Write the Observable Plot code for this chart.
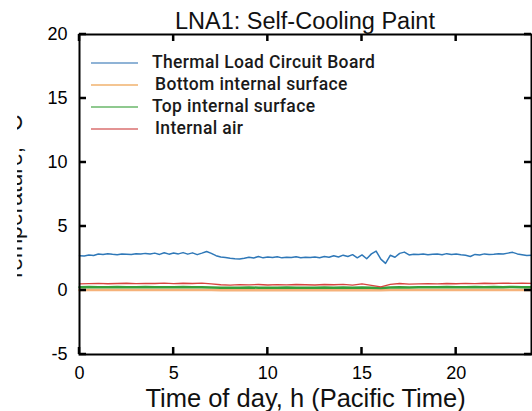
<!DOCTYPE html>
<html>
<head>
<meta charset="utf-8">
<script src="https://cdn.jsdelivr.net/npm/d3@7"></script>
<script src="https://cdn.jsdelivr.net/npm/@observablehq/plot@0.6"></script>
<style>
  html, body { margin: 0; padding: 0; background: #fff; overflow: hidden; }
  #wrap { position: relative; width: 532px; height: 411px; overflow: hidden; }
  #title { position: absolute; left: 5px; width: 600px; top: 9.5px; line-height: 23px; text-align: center; font-family: "Liberation Sans", Arial, sans-serif; font-size: 23.5px; color: #111; white-space: nowrap; }
  #legend { position: absolute; left: 91px; top: 52px; font-family: Roboto, sans-serif; font-size: 17.5px; font-weight: 500; letter-spacing: 0.35px; color: #1a1a1a; }
  .row { position: relative; height: 22px; }
  .row .ln { position: absolute; left: 0; top: 10px; width: 47px; height: 1.5px; }
  .row .tx { position: absolute; left: 61px; top: 0; white-space: nowrap; line-height: 20px; }
  #mask { position: absolute; left: 0; top: 0; width: 17px; height: 411px; background: #fff; }
</style>
</head>
<body>
<div id="wrap">
  <div id="chart"></div>
  <div id="mask"></div>
  <div id="title"></div>
  <div id="legend"></div>
</div>
<script>
const title = "LNA1: Self-Cooling Paint";
const xLabel = "Time of day, h (Pacific Time)";
const yLabel = "Temperature, °C";
const seriesNames = ["Thermal Load Circuit Board", "Bottom internal surface", "Top internal surface", "Internal air"];
const seriesColors = ["#2f78b8", "#f6b27a", "#36a03a", "#d8433d"];
const legendColors = ["#8fb3d6", "#f4c592", "#8fc98f", "#e39393"];
const xTicks = [0, 5, 10, 15, 20];
const yTicks = [-5, 0, 5, 10, 15, 20];
const xDomain = [0, 24];
const yDomain = [-5, 20];

const hoursFine = [0,0.25,0.5,0.75,1,1.25,1.5,1.75,2,2.25,2.5,2.75,3,3.25,3.5,3.75,4,4.25,4.5,4.75,5,5.25,5.5,5.75,6,6.25,6.5,6.75,7,7.25,7.5,7.75,8,8.25,8.5,8.75,9,9.25,9.5,9.75,10,10.25,10.5,10.75,11,11.25,11.5,11.75,12,12.25,12.5,12.75,13,13.25,13.5,13.75,14,14.25,14.5,14.75,15,15.25,15.5,15.75,16,16.25,16.5,16.75,17,17.25,17.5,17.75,18,18.25,18.5,18.75,19,19.25,19.5,19.75,20,20.25,20.5,20.75,21,21.25,21.5,21.75,22,22.25,22.5,22.75,23,23.25,23.5,23.75,24];
const hoursCoarse = [0,0.5,1,1.5,2,2.5,3,3.5,4,4.5,5,5.5,6,6.5,7,7.5,8,8.5,9,9.5,10,10.5,11,11.5,12,12.5,13,13.5,14,14.5,15,15.5,16,16.5,17,17.5,18,18.5,19,19.5,20,20.5,21,21.5,22,22.5,23,23.5,24];

const boardTemp = [2.72,2.70,2.78,2.74,2.85,2.82,2.88,2.83,2.80,2.86,2.84,2.82,2.88,2.85,2.90,2.86,2.92,2.82,2.95,2.84,2.93,2.86,2.96,2.84,2.94,2.80,2.92,3.05,2.90,2.72,2.62,2.58,2.52,2.48,2.46,2.52,2.60,2.54,2.66,2.55,2.62,2.57,2.63,2.55,2.60,2.58,2.64,2.56,2.60,2.57,2.62,2.56,2.65,2.60,2.72,2.62,2.76,2.66,2.80,2.55,2.78,2.48,2.86,3.08,2.45,2.12,2.75,2.60,2.90,3.00,2.78,2.84,2.82,2.86,2.80,2.84,2.86,2.80,2.88,2.82,2.85,2.80,2.76,2.66,2.82,2.78,2.86,2.82,2.84,2.88,2.86,2.92,2.98,2.86,2.80,2.74,2.76];
const bottomTemp = [0.03,0.04,0.03,0.03,0.04,0.03,0.04,0.03,0.03,0.04,0.03,0.04,0.03,0.03,0.03,0.02,0.02,0.03,0.02,0.02,0.03,0.02,0.02,0.03,0.02,0.02,0.03,0.02,0.02,0.02,0.03,0.02,0.02,0.03,0.03,0.03,0.04,0.03,0.03,0.04,0.03,0.04,0.03,0.04,0.03,0.04,0.03,0.04,0.03];
const topTemp = [0.26,0.27,0.26,0.25,0.27,0.26,0.25,0.27,0.26,0.25,0.26,0.27,0.25,0.26,0.24,0.22,0.21,0.22,0.23,0.22,0.21,0.22,0.23,0.22,0.21,0.22,0.23,0.22,0.23,0.21,0.24,0.22,0.20,0.23,0.25,0.24,0.26,0.25,0.26,0.27,0.25,0.26,0.27,0.26,0.27,0.26,0.27,0.26,0.26];
const airTemp = [0.52,0.54,0.56,0.53,0.55,0.57,0.54,0.56,0.55,0.58,0.54,0.57,0.55,0.58,0.52,0.45,0.42,0.46,0.44,0.47,0.43,0.46,0.44,0.47,0.45,0.43,0.47,0.45,0.48,0.42,0.52,0.40,0.28,0.48,0.55,0.50,0.52,0.54,0.52,0.55,0.53,0.56,0.54,0.57,0.55,0.58,0.56,0.57,0.56];

const toRows = (xs, ys, s) => xs.map((x, i) => ({hour: x, temp: ys[i], series: s}));
const board = toRows(hoursFine, boardTemp, seriesNames[0]);
const bottom = toRows(hoursCoarse, bottomTemp, seriesNames[1]);
const top_ = toRows(hoursCoarse, topTemp, seriesNames[2]);
const air = toRows(hoursCoarse, airTemp, seriesNames[3]);

const font = '"Liberation Sans", Arial, sans-serif';
const W = 532, H = 411, mL = 79, mR = 1, mT = 34, mB = 57;
const tickPx = 7;
const fmt = d => String(d);

const plot = Plot.plot({
  width: W,
  height: H,
  marginLeft: mL,
  marginRight: mR,
  marginTop: mT,
  marginBottom: mB,
  style: {fontFamily: font, background: "#fff"},
  x: {domain: xDomain},
  y: {domain: yDomain},
  marks: [
    Plot.line(bottom, {x: "hour", y: "temp", stroke: seriesColors[1], strokeWidth: 2.5}),
    Plot.line(top_, {x: "hour", y: "temp", stroke: seriesColors[2], strokeWidth: 2.5}),
    Plot.line(air, {x: "hour", y: "temp", stroke: seriesColors[3], strokeWidth: 1.4}),
    Plot.line(board, {x: "hour", y: "temp", stroke: seriesColors[0], strokeWidth: 1.5}),
    Plot.axisX(xTicks, {anchor: "bottom", tickSize: 0, tickPadding: 12, fontSize: 18, tickFormat: fmt, label: null}),
    Plot.axisY(yTicks, {anchor: "left", tickSize: 0, tickPadding: 12, fontSize: 18, tickFormat: fmt, label: null}),
    Plot.frame({stroke: "#000", strokeWidth: 2}),
    Plot.text([xLabel], {frameAnchor: "bottom", dy: 44, fontSize: 25.5, fill: "#111", lineAnchor: "middle", textAnchor: "middle"}),
    Plot.text([yLabel], {frameAnchor: "left", rotate: -90, dx: -58, dy: 4, fontSize: 23, fill: "#111", lineAnchor: "bottom", textAnchor: "middle"})
  ]
});
document.getElementById("chart").appendChild(plot);

// inward tick marks on all four sides, positioned through Plot's own scales
const sx = plot.scale("x"), sy = plot.scale("y");
const x0 = sx.apply(xDomain[0]), x1 = sx.apply(xDomain[1]);
const y0 = sy.apply(yDomain[0]), y1 = sy.apply(yDomain[1]);
const segs = [
  ...xTicks.map(v => [sx.apply(v), y0, sx.apply(v), y0 - tickPx]),
  ...xTicks.map(v => [sx.apply(v), y1, sx.apply(v), y1 + tickPx]),
  ...yTicks.map(v => [x0, sy.apply(v), x0 + tickPx, sy.apply(v)]),
  ...yTicks.map(v => [x1, sy.apply(v), x1 - tickPx, sy.apply(v)])
];
d3.select(plot).append("g")
  .attr("stroke", "#000")
  .attr("stroke-width", 2.5)
  .selectAll("line")
  .data(segs)
  .join("line")
  .attr("x1", d => d[0]).attr("y1", d => d[1])
  .attr("x2", d => d[2]).attr("y2", d => d[3]);

document.getElementById("title").textContent = title;

const legend = d3.select("#legend");
seriesNames.forEach((name, i) => {
  const row = legend.append("div").attr("class", "row");
  row.append("div").attr("class", "ln").style("background", legendColors[i]);
  row.append("div").attr("class", "tx").style("left", (i % 2 === 1 ? 64 : 61) + "px").text(name);
});
</script>
</body>
</html>
